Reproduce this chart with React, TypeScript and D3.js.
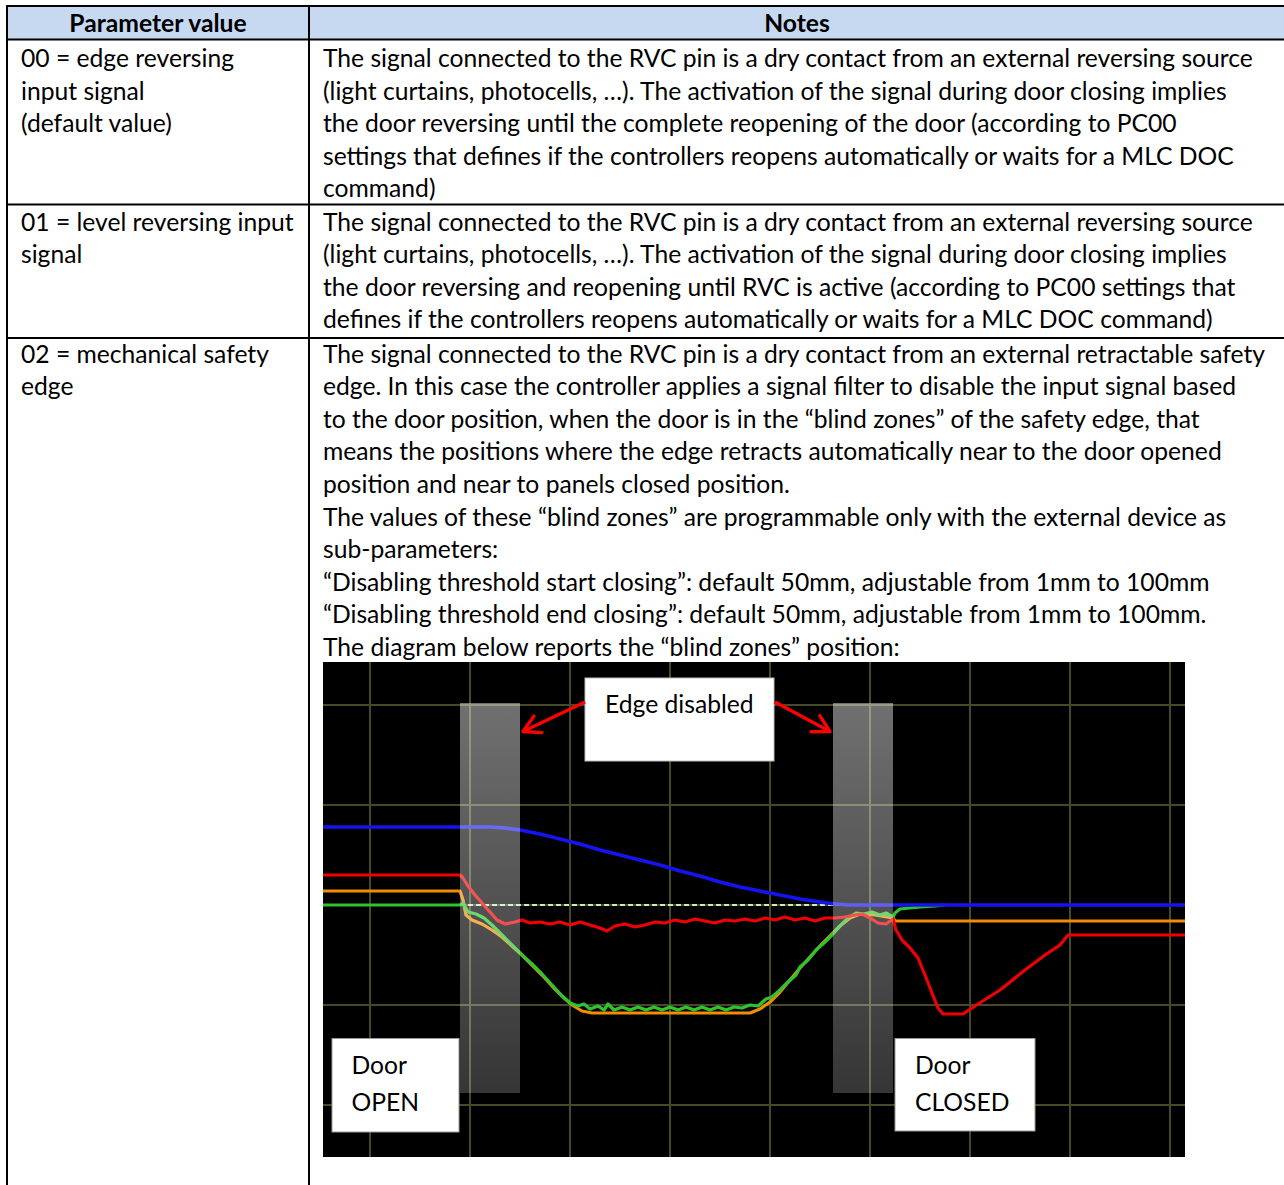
import React, { useMemo } from 'react';
import * as d3 from 'd3';

// ---------- table text ----------
const headerLabels = ['Parameter value', 'Notes'];

const parameterLines: string[][] = [
  ['00 = edge reversing', 'input signal', '(default value)'],
  ['01 = level reversing input', 'signal'],
  ['02 = mechanical safety', 'edge'],
];

const noteLines: string[][] = [
  [
    'The signal connected to the RVC pin is a dry contact from an external reversing source',
    '(light curtains, photocells, …). The activation of the signal during door closing implies',
    'the door reversing until the complete reopening of the door (according to PC00',
    'settings that defines if the controllers reopens automatically or waits for a MLC DOC',
    'command)',
  ],
  [
    'The signal connected to the RVC pin is a dry contact from an external reversing source',
    '(light curtains, photocells, …). The activation of the signal during door closing implies',
    'the door reversing and reopening until RVC is active (according to PC00 settings that',
    'defines if the controllers reopens automatically or waits for a MLC DOC command)',
  ],
  [
    'The signal connected to the RVC pin is a dry contact from an external retractable safety',
    'edge. In this case the controller applies a signal filter to disable the input signal based',
    'to the door position, when the door is in the \u201Cblind zones\u201D of the safety edge, that',
    'means the positions where the edge retracts automatically near to the door opened',
    'position and near to panels closed position.',
    'The values of these \u201Cblind zones\u201D are programmable only with the external device as',
    'sub-parameters:',
    '\u201CDisabling threshold start closing\u201D: default 50mm, adjustable from 1mm to 100mm',
    '\u201CDisabling threshold end closing\u201D: default 50mm, adjustable from 1mm to 100mm.',
    'The diagram below reports the \u201Cblind zones\u201D position:',
  ],
];

// ---------- chart data (time in grid divisions, level in grid divisions) ----------
const gridTimes = [0, 1, 2, 3, 4, 5, 6, 7, 8];
const gridLevels = [2, 1, -1, -2];
const blindZones: [number, number][] = [[0.9, 1.5], [4.63, 5.23]];
const blindZoneTop = 2.02;
const blindZoneBottom = -1.88;
const thresholdLine: [number, number][] = [[0.9, 0], [4.8, 0]];

const bluePosition: [number, number][] = [
  [-0.47, 0.78], [1.2, 0.78], [1.35, 0.77], [1.5, 0.75], [1.7, 0.71], [1.9, 0.66],
  [2.1, 0.61], [2.3, 0.55], [2.5, 0.5], [2.7, 0.45], [2.9, 0.4], [3.1, 0.34],
  [3.3, 0.29], [3.5, 0.23], [3.7, 0.18], [3.9, 0.14], [4.1, 0.1], [4.3, 0.06],
  [4.5, 0.03], [4.65, 0.01], [4.8, 0.0], [8.15, 0.0],
];

const redSignal: [number, number][] = [
  [-0.47, 0.3], [0.9, 0.3], [0.93, 0.27], [0.98, 0.19], [1.05, 0.1], [1.12, 0.02],
  [1.2, -0.07], [1.27, -0.15], [1.35, -0.19], [1.45, -0.17], [1.52, -0.15], [1.6, -0.18],
  [1.7, -0.17], [1.8, -0.19], [1.9, -0.17], [2.0, -0.2], [2.1, -0.17], [2.2, -0.2],
  [2.3, -0.23], [2.37, -0.26], [2.45, -0.21], [2.55, -0.19], [2.65, -0.22], [2.75, -0.2],
  [2.85, -0.17], [2.95, -0.18], [3.05, -0.15], [3.15, -0.17], [3.25, -0.14], [3.35, -0.16],
  [3.45, -0.18], [3.55, -0.15], [3.65, -0.16], [3.75, -0.14], [3.85, -0.16], [3.95, -0.13],
  [4.05, -0.15], [4.15, -0.12], [4.25, -0.15], [4.35, -0.13], [4.45, -0.16], [4.55, -0.13],
  [4.65, -0.13], [4.75, -0.12], [4.85, -0.1], [4.92, -0.09], [5.0, -0.13], [5.08, -0.18],
  [5.16, -0.19], [5.23, -0.14], [5.26, -0.25], [5.32, -0.35], [5.4, -0.43], [5.48, -0.53],
  [5.55, -0.7], [5.62, -0.88], [5.68, -1.03], [5.73, -1.09], [5.93, -1.09], [6.05, -1.01],
  [6.3, -0.85], [6.55, -0.65], [6.75, -0.5], [6.9, -0.4], [6.98, -0.3], [8.15, -0.3],
];

const orangeSignal: [number, number][] = [
  [-0.47, 0.14], [0.9, 0.14], [0.93, 0.05], [0.96, -0.1], [1.02, -0.15], [1.12, -0.19],
  [1.22, -0.25], [1.32, -0.32], [1.42, -0.41], [1.52, -0.5], [1.62, -0.6], [1.72, -0.7],
  [1.82, -0.81], [1.92, -0.91], [2.02, -1.0], [2.12, -1.06], [2.22, -1.08], [3.8, -1.08],
  [3.9, -1.04], [4.0, -0.97], [4.1, -0.87], [4.2, -0.75], [4.3, -0.63], [4.4, -0.52],
  [4.5, -0.41], [4.6, -0.31], [4.7, -0.21], [4.8, -0.13], [4.9, -0.09], [5.05, -0.1],
  [5.23, -0.13], [5.25, -0.16], [8.15, -0.16],
];

const greenSignal: [number, number][] = [
  [-0.47, 0.0], [0.9, 0.0], [0.93, 0.02], [0.98, -0.07], [1.06, -0.09], [1.14, -0.13],
  [1.22, -0.2], [1.32, -0.3], [1.42, -0.4], [1.52, -0.5], [1.62, -0.59], [1.72, -0.69],
  [1.82, -0.8], [1.92, -0.91], [2.0, -0.98], [2.08, -1.01], [2.14, -0.99], [2.2, -1.04],
  [2.28, -1.01], [2.34, -1.05], [2.38, -0.99], [2.44, -1.05], [2.52, -1.02], [2.6, -1.05],
  [2.68, -1.02], [2.76, -1.05], [2.84, -1.02], [2.92, -1.05], [3.0, -1.02], [3.08, -1.05],
  [3.16, -1.02], [3.24, -1.05], [3.32, -1.02], [3.4, -1.05], [3.48, -1.02], [3.56, -1.05],
  [3.64, -1.02], [3.72, -1.03], [3.8, -1.0], [3.88, -1.01], [3.96, -0.94], [4.02, -0.92],
  [4.1, -0.85], [4.18, -0.77], [4.26, -0.7], [4.3, -0.62], [4.38, -0.55], [4.46, -0.45],
  [4.54, -0.38], [4.62, -0.3], [4.7, -0.21], [4.78, -0.13], [4.86, -0.08], [4.94, -0.09],
  [5.02, -0.07], [5.1, -0.1], [5.16, -0.08], [5.23, -0.12], [5.25, -0.08], [5.3, -0.04],
  [5.4, -0.03], [5.5, -0.02], [5.65, -0.01], [5.75, 0.0],
];

const annotationLabels = {
  edge: 'Edge disabled',
  open: ['Door', 'OPEN'],
  closed: ['Door', 'CLOSED'],
};

// ---------- layout ----------
const W = 1284;
const H = 1185;
const FONT = 'Lato, "Open Sans", sans-serif';
const tableLeft = 7;
const tableCol = 309;
const tableRight = 1285;
const tableTop = 6;
const headerBottom = 39.5;
const rowBottoms = [204.5, 338];
const rowFirstBaselines = [67, 230.5, 362.5];
const lineStep = 32.6;

function fitFontSize(): number {
  try {
    const ctx = document.createElement('canvas').getContext('2d');
    if (ctx) {
      ctx.font = '100px Lato';
      const w = ctx.measureText(noteLines[0][0]).width;
      if (w > 0) return (100 * 931) / w;
    }
  } catch (e) {
    /* ignore */
  }
  return 24;
}

export default function App() {
  const fs = useMemo(() => fitFontSize(), []);

  const x = d3.scaleLinear().domain([-0.47, 8.15]).range([323, 1185]);
  const y = d3.scaleLinear().domain([2.43, -2.52]).range([662, 1157]);
  const line = d3
    .line<[number, number]>()
    .x((d) => x(d[0]))
    .y((d) => y(d[1]));

  const chartX = x(-0.47);
  const chartY = y(2.43);
  const chartW = x(8.15) - x(-0.47);
  const chartH = y(-2.52) - y(2.43);
  const gridColor = '#464b26';

  return (
    <svg
      width={W}
      height={H}
      style={{ position: 'absolute', left: 0, top: 0, background: '#fff' }}
      fontFamily={FONT}
    >
      <defs>
        <linearGradient id="bandGrad" x1="0" y1="0" x2="0" y2="1">
          <stop offset="0%" stopColor="#ffffff" stopOpacity={0.44} />
          <stop offset="100%" stopColor="#ffffff" stopOpacity={0.21} />
        </linearGradient>
        <clipPath id="chartClip">
          <rect x={chartX} y={chartY} width={chartW} height={chartH} />
        </clipPath>
        <marker
          id="arrowHead"
          viewBox="0 0 12 12"
          refX="10.5"
          refY="6"
          markerWidth="6.5"
          markerHeight="6.5"
          orient="auto"
          markerUnits="strokeWidth"
        >
          <path d="M1.5,1 L10.5,6 L1.5,11" fill="none" stroke="#ff0000" strokeWidth={1.8} strokeLinecap="round" strokeLinejoin="round" />
        </marker>
      </defs>

      <rect x={0} y={0} width={W} height={H} fill="#fff" />

      {/* header */}
      <rect x={tableLeft} y={tableTop} width={tableRight - tableLeft} height={headerBottom - tableTop} fill="#c6d9f1" />
      <text x={(tableLeft + tableCol) / 2} y={31.5} textAnchor="middle" fontWeight={700} fontSize={fs} fill="#000">
        {headerLabels[0]}
      </text>
      <text x={(tableCol + tableRight) / 2} y={31.5} textAnchor="middle" fontWeight={700} fontSize={fs} fill="#000">
        {headerLabels[1]}
      </text>

      {/* body text */}
      {parameterLines.map((lines, r) =>
        lines.map((t, i) => (
          <text key={`p${r}-${i}`} x={21} y={rowFirstBaselines[r] + i * lineStep} fontSize={fs} fill="#000">
            {t}
          </text>
        ))
      )}
      {noteLines.map((lines, r) =>
        lines.map((t, i) => (
          <text key={`n${r}-${i}`} x={323} y={rowFirstBaselines[r] + i * lineStep} fontSize={fs} fill="#000">
            {t}
          </text>
        ))
      )}

      {/* chart */}
      <g clipPath="url(#chartClip)">
        <rect x={chartX} y={chartY} width={chartW} height={chartH} fill="#000" />
        {gridTimes.map((t) => (
          <line key={`gx${t}`} x1={x(t)} x2={x(t)} y1={chartY} y2={chartY + chartH} stroke={gridColor} strokeWidth={2} />
        ))}
        {gridLevels.map((v) => (
          <line key={`gy${v}`} x1={chartX} x2={chartX + chartW} y1={y(v)} y2={y(v)} stroke={gridColor} strokeWidth={2} />
        ))}
        <line x1={chartX} x2={chartX + chartW} y1={y(0)} y2={y(0)} stroke={gridColor} strokeWidth={2} />
        <path d={line(thresholdLine) || ''} fill="none" stroke="#c4eebc" strokeWidth={2} strokeDasharray="5 3" />

        <path d={line(orangeSignal) || ''} fill="none" stroke="#f08c00" strokeWidth={3.2} strokeLinejoin="round" />
        <path d={line(greenSignal) || ''} fill="none" stroke="#2fc42f" strokeWidth={3.2} strokeLinejoin="round" />
        <path d={line(redSignal) || ''} fill="none" stroke="#f00000" strokeWidth={3.2} strokeLinejoin="round" />
        <path d={line(bluePosition) || ''} fill="none" stroke="#1414f0" strokeWidth={3.6} strokeLinejoin="round" />

        {blindZones.map(([a, b], i) => (
          <rect
            key={`bz${i}`}
            x={x(a)}
            y={y(blindZoneTop)}
            width={x(b) - x(a)}
            height={y(blindZoneBottom) - y(blindZoneTop)}
            fill="url(#bandGrad)"
          />
        ))}

        {/* annotation boxes */}
        <rect x={585} y={678} width={189} height={83} fill="#fff" stroke="#bdbdbd" strokeWidth={1} />
        <text x={605} y={713} fontSize={fs} fill="#000">{annotationLabels.edge}</text>

        <rect x={332} y={1038.5} width={127} height={93.5} fill="#fff" stroke="#9a9a9a" strokeWidth={1} />
        <text x={351.5} y={1074} fontSize={fs} fill="#000">{annotationLabels.open[0]}</text>
        <text x={351.5} y={1111} fontSize={fs} fill="#000">{annotationLabels.open[1]}</text>

        <rect x={895} y={1038.5} width={140} height={92.5} fill="#fff" stroke="#9a9a9a" strokeWidth={1} />
        <text x={915} y={1074} fontSize={fs} fill="#000">{annotationLabels.closed[0]}</text>
        <text x={915} y={1111} fontSize={fs} fill="#000">{annotationLabels.closed[1]}</text>

        <line x1={585} y1={702} x2={523} y2={731.5} stroke="#ff0000" strokeWidth={3.4} markerEnd="url(#arrowHead)" />
        <line x1={775} y1={702} x2={830} y2={731.5} stroke="#ff0000" strokeWidth={3.4} markerEnd="url(#arrowHead)" />
      </g>

      {/* table lines */}
      <g stroke="#000" strokeWidth={2}>
        <line x1={tableLeft - 1} x2={tableRight} y1={tableTop} y2={tableTop} />
        <line x1={tableLeft - 1} x2={tableRight} y1={headerBottom} y2={headerBottom} />
        {rowBottoms.map((yy, i) => (
          <line key={`rb${i}`} x1={tableLeft - 1} x2={tableRight} y1={yy} y2={yy} />
        ))}
        <line x1={tableLeft} x2={tableLeft} y1={tableTop} y2={H + 5} />
        <line x1={tableCol} x2={tableCol} y1={tableTop} y2={H + 5} />
        <line x1={tableRight} x2={tableRight} y1={tableTop} y2={H + 5} />
      </g>
    </svg>
  );
}
